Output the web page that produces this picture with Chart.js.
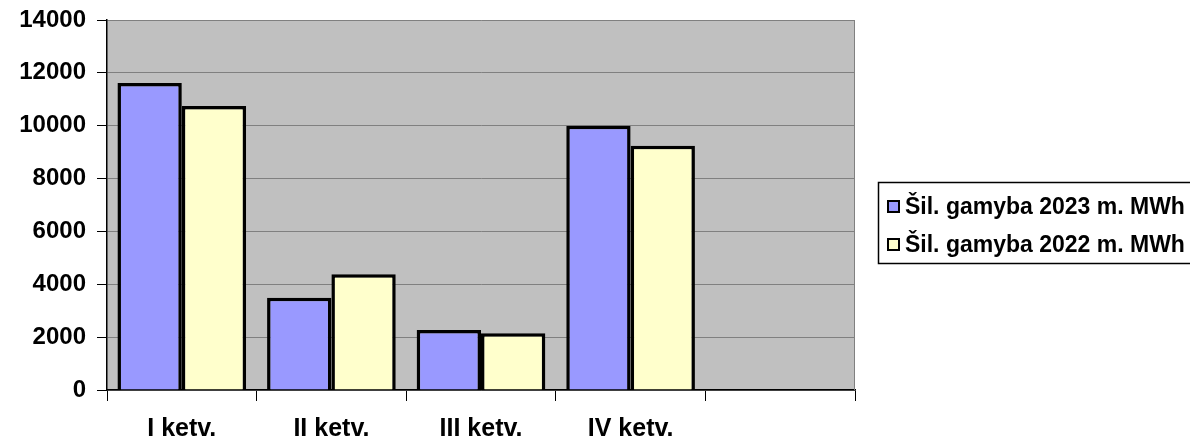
<!DOCTYPE html>
<html>
<head>
<meta charset="utf-8">
<script src="https://cdn.jsdelivr.net/npm/chart.js@4"></script>
<style>
  html, body { margin: 0; padding: 0; background: #fff; }
  #wrap { width: 1190px; height: 437px; position: relative; }
</style>
</head>
<body>
<div id="wrap"><canvas id="chart"></canvas></div>
<script>
const quarters = ['I ketv.', 'II ketv.', 'III ketv.', 'IV ketv.', ''];
const prod2023 = [11620, 3490, 2270, 10000, null];
const prod2022 = [10750, 4380, 2150, 9240, null];
const yTicks = [0, 2000, 4000, 6000, 8000, 10000, 12000, 14000];

const FONT = '"Liberation Sans", Arial, sans-serif';

// grey plot background + right border
const plotBg = {
    id: 'plotBg',
    beforeDraw(chart) {
        const { ctx, chartArea: a } = chart;
        ctx.save();
        ctx.fillStyle = '#C0C0C0';
        ctx.fillRect(a.left, a.top, a.right - a.left, a.bottom - a.top);
        ctx.restore();
    },
    afterDatasetsDraw(chart) {
        const { ctx, chartArea: a } = chart;
        ctx.save();
        ctx.strokeStyle = '#808080';
        ctx.lineWidth = 1;
        ctx.beginPath();
        ctx.moveTo(a.right - 0.5, a.top);
        ctx.lineTo(a.right - 0.5, a.bottom);
        ctx.stroke();
        ctx.restore();
    }
};

// boxed legend on the right
const boxLegend = {
    id: 'boxLegend',
    afterDraw(chart) {
        const ctx = chart.ctx;
        ctx.save();
        ctx.strokeStyle = '#000';
        ctx.lineWidth = 1.5;
        ctx.strokeRect(878.5, 182.5, 330, 81);
        ctx.font = 'bold 23px ' + FONT;
        ctx.textBaseline = 'middle';
        chart.data.datasets.forEach((ds, i) => {
            const y = 207 + i * 38;
            ctx.fillStyle = ds.backgroundColor;
            ctx.fillRect(888, y - 6, 11, 11);
            ctx.lineWidth = 2;
            ctx.strokeRect(888, y - 6, 11, 11);
            ctx.fillStyle = '#000';
            ctx.fillText(ds.label, 905, y + 1);
        });
        ctx.restore();
    }
};

new Chart(document.getElementById('chart'), {
    type: 'bar',
    data: {
        labels: quarters,
        datasets: [
            {
                label: 'Šil. gamyba 2023 m. MWh',
                data: prod2023,
                backgroundColor: '#9999FF',
                borderColor: '#000',
                borderWidth: 3.5,
                borderSkipped: 'bottom'
            },
            {
                label: 'Šil. gamyba 2022 m. MWh',
                data: prod2022,
                backgroundColor: '#FFFFCC',
                borderColor: '#000',
                borderWidth: 3.5,
                borderSkipped: 'bottom'
            }
        ]
    },
    options: {
        responsive: true,
        maintainAspectRatio: false,
        animation: false,
        categoryPercentage: 0.86,
        barPercentage: 1.0,
        layout: { padding: { top: 20, right: 335, left: 0, bottom: 0 } },
        plugins: {
            legend: { display: false },
            tooltip: { enabled: false }
        },
        scales: {
            x: {
                afterFit: s => { s.height = 47; s.paddingLeft = 0; s.paddingRight = 0; },
                grid: {
                    offset: true,
                    drawOnChartArea: false,
                    drawTicks: true,
                    tickLength: 11,
                    color: '#000'
                },
                border: { color: '#000', width: 1.5 },
                ticks: {
                    color: '#000',
                    padding: 13,
                    font: { family: FONT, size: 25, weight: 'bold' }
                }
            },
            y: {
                min: 0,
                max: 14000,
                afterFit: s => { s.width = 107; s.paddingTop = 0; s.paddingBottom = 0; },
                afterBuildTicks: s => { s.ticks = yTicks.map(v => ({ value: v })); },
                grid: {
                    color: '#808080',
                    tickColor: '#000',
                    tickLength: 10,
                    lineWidth: 1
                },
                border: { color: '#000', width: 1.5 },
                ticks: {
                    color: '#000',
                    padding: 11,
                    callback: v => String(v),
                    font: { family: FONT, size: 24, weight: 'bold' }
                }
            }
        }
    },
    plugins: [plotBg, boxLegend]
});
</script>
</body>
</html>
